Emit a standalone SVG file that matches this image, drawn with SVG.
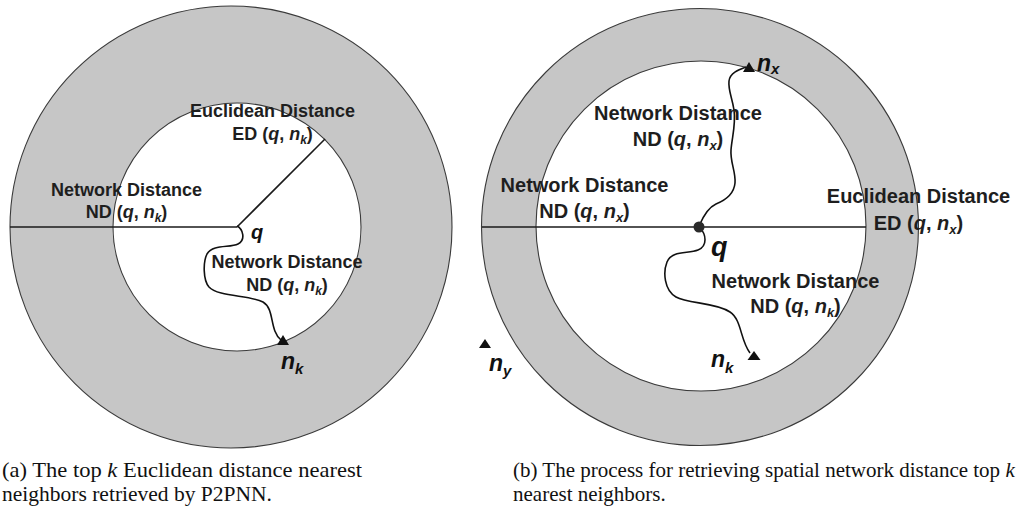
<svg xmlns="http://www.w3.org/2000/svg" width="1016" height="510" viewBox="0 0 1016 510">
<style>
.ring{fill:#c6c6c6;stroke:#3a3a3a;stroke-width:1.1}
.hole{fill:#ffffff;stroke:#3a3a3a;stroke-width:1.1}
.edge{fill:none;stroke:#1a1a1a;stroke-width:1.6}
.wave{fill:none;stroke:#111;stroke-width:1.6}
.tri{fill:#111}
.lbl{font-family:"Liberation Sans",Arial,sans-serif;font-weight:bold;fill:#1e1e1e;text-anchor:middle}
.s18{font-size:18px}
.s20{font-size:20px}
.it{font-style:italic}
.sub{font-style:italic;font-size:12px}
.sub2{font-style:italic;font-size:13px}
.nl{font-family:"Liberation Sans",Arial,sans-serif;font-weight:bold;font-style:italic;fill:#111;font-size:23px}
.nsub{font-size:15px}
.cap{font-family:"Liberation Serif","Times New Roman",serif;font-size:21px;fill:#111}
</style>

<g id="left-outer"><circle class="ring" cx="231" cy="227" r="221"/></g>
<g id="left-inner"><circle class="hole" cx="237" cy="227" r="124"/></g>

<g id="right-outer"><circle class="ring" cx="700" cy="227" r="218.5"/></g>
<g id="right-inner"><circle class="hole" cx="701" cy="226" r="165"/></g>

<g id="connectors">
  <line class="edge" x1="10" y1="227" x2="237" y2="227"/>
  <line class="edge" x1="237" y1="227" x2="325" y2="139"/>
  <path class="wave" d="M237 226 C243 229,246 240,238 244 C230 248,213 244,207 254 C203 262,203 280,209 287 C218 297,250 295,263 302 C275 309,269 330,281 340"/>
  <line class="edge" x1="482" y1="227" x2="866" y2="227"/>
  <path class="wave" d="M699 226 C702 219,707 208,716 204 C726 200,734 194,735 183 C736 172,730 162,731 150 C732 137,736 125,734 110 C732 97,728 90,729 81 C730 73,738 70,746 67"/>
  <path class="wave" d="M700 228 C706 234,708 246,698 250 C688 254,672 250,667 262 C663 272,664 290,676 297 C688 304,715 302,730 312 C742 320,740 340,750 353"/>
</g>

<g id="node-q-left">
  <text class="nl" x="251" y="239" font-size="20" style="font-size:20px">q</text>
</g>
<g id="node-nk-left">
  <polygon class="tri" points="283,335 277,345 289,345"/>
  <text class="nl" x="281" y="369">n<tspan class="nsub" dy="5">k</tspan></text>
</g>

<g id="label-ed-left">
  <text class="lbl s18" x="272.5" y="117">Euclidean Distance</text>
  <text class="lbl s18" x="272.5" y="140">ED (<tspan class="it">q</tspan>, <tspan class="it">n</tspan><tspan class="sub" dy="4">k</tspan><tspan dy="-4">)</tspan></text>
</g>
<g id="label-nd-left-a">
  <text class="lbl s18" x="126.5" y="196">Network Distance</text>
  <text class="lbl s18" x="126.5" y="218">ND (<tspan class="it">q</tspan>, <tspan class="it">n</tspan><tspan class="sub" dy="4">k</tspan><tspan dy="-4">)</tspan></text>
</g>
<g id="label-nd-left-b">
  <text class="lbl s18" x="287" y="268">Network Distance</text>
  <text class="lbl s18" x="287" y="291">ND (<tspan class="it">q</tspan>, <tspan class="it">n</tspan><tspan class="sub" dy="4">k</tspan><tspan dy="-4">)</tspan></text>
</g>

<g id="node-q-right">
  <circle cx="699" cy="227" r="5.5" fill="#2a2a2a"/>
  <text class="nl" x="711" y="256" style="font-size:27px">q</text>
</g>
<g id="node-nx">
  <polygon class="tri" points="749,62 743,72 755,72"/>
  <text class="nl" x="757" y="71">n<tspan class="nsub" dy="3">x</tspan></text>
</g>
<g id="node-nk-right">
  <polygon class="tri" points="754,351 747.5,360 760.5,360"/>
  <text class="nl" x="711" y="367">n<tspan class="nsub" dy="6">k</tspan></text>
</g>
<g id="node-ny">
  <polygon class="tri" points="485,339 479,348 491,348"/>
  <text class="nl" x="489" y="371">n<tspan class="nsub" dy="5">y</tspan></text>
</g>

<g id="label-nd-right-top">
  <text class="lbl s20" x="678" y="120">Network Distance</text>
  <text class="lbl s20" x="678" y="146">ND (<tspan class="it">q</tspan>, <tspan class="it">n</tspan><tspan class="sub2" dy="4">x</tspan><tspan dy="-4">)</tspan></text>
</g>
<g id="label-nd-right-left">
  <text class="lbl s20" x="584.5" y="192">Network Distance</text>
  <text class="lbl s20" x="584.5" y="218">ND (<tspan class="it">q</tspan>, <tspan class="it">n</tspan><tspan class="sub2" dy="4">x</tspan><tspan dy="-4">)</tspan></text>
</g>
<g id="label-ed-right">
  <text class="lbl s20" x="918.5" y="203">Euclidean Distance</text>
  <text class="lbl s20" x="918.5" y="230">ED (<tspan class="it">q</tspan>, <tspan class="it">n</tspan><tspan class="sub2" dy="4">x</tspan><tspan dy="-4">)</tspan></text>
</g>
<g id="label-nd-right-bottom">
  <text class="lbl s20" x="795.5" y="288">Network Distance</text>
  <text class="lbl s20" x="795.5" y="313">ND (<tspan class="it">q</tspan>, <tspan class="it">n</tspan><tspan class="sub2" dy="4">k</tspan><tspan dy="-4">)</tspan></text>
</g>

<g id="caption-a">
  <text class="cap" x="2" y="477" textLength="360" lengthAdjust="spacingAndGlyphs">(a) The top <tspan font-style="italic">k</tspan> Euclidean distance nearest</text>
  <text class="cap" x="2" y="501" textLength="270" lengthAdjust="spacingAndGlyphs">neighbors retrieved by P2PNN.</text>
</g>
<g id="caption-b">
  <text class="cap" x="513" y="477">(b) The process for retrieving spatial network distance top <tspan font-style="italic">k</tspan></text>
  <text class="cap" x="513" y="501">nearest neighbors.</text>
</g>
</svg>
